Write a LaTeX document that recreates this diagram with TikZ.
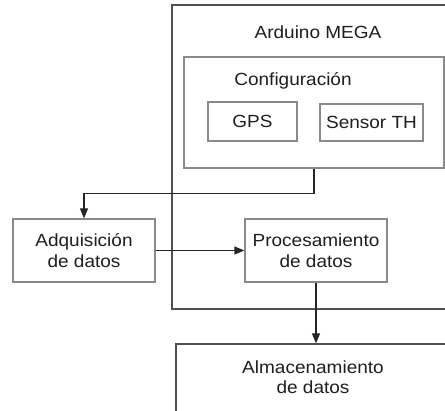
\documentclass[tikz,border=0pt]{standalone}
\usepackage{fontspec}
\setmainfont{Liberation Sans}[FakeStretch=1.08]
\usetikzlibrary{arrows.meta}
\definecolor{outerline}{HTML}{505050}
\definecolor{innerline}{HTML}{8A8A8A}
\definecolor{txt}{HTML}{1E1E1E}
\begin{document}
\begin{tikzpicture}[x=1pt,y=-1pt,
  every node/.style={font=\fontsize{17.6}{20.5}\selectfont, text=txt, inner sep=0pt, align=center},
  bigbox/.style={draw=outerline, line width=1.2pt},
  smallbox/.style={draw=innerline, line width=1.2pt},
  conn/.style={draw=black!85, line width=1.2pt},
  arr/.style={conn, -{Triangle[length=10pt,width=8pt]}}]
\useasboundingbox (0,0) rectangle (445,411);
\clip (0,0) rectangle (445,411);
% Arduino MEGA
\node[bigbox, minimum width=290pt, minimum height=304pt] (arduino) at (317,157) {};
\node (arduinotxt) at (318,32) {Arduino MEGA};
% Configuracion
\node[smallbox, minimum width=260pt, minimum height=111pt] (config) at (314,112.5) {};
\node (configtxt) at (293,81) {Configuración};
\node[smallbox, minimum width=89pt, minimum height=39pt] (gps) at (252.5,121.5) {GPS};
\node[smallbox, minimum width=103pt, minimum height=37pt] (sensor) at (371.5,122.5) {Sensor TH};
% Adquisicion / Procesamiento
\node[smallbox, minimum width=142pt, minimum height=63pt] (adq) at (84,250.5) {Adquisición\\de datos};
\node[smallbox, minimum width=142pt, minimum height=63pt] (proc) at (316,250.5) {Procesamiento\\de datos};
% Almacenamiento
\node[bigbox, minimum width=290pt, minimum height=100pt] (almac) at (321,394) {};
\node (almactxt) at (313,377) {Almacenamiento\\de datos};
% connectors
\draw[arr] (config.south) -- ++(0,25) coordinate (bend) -| (adq.north);
\draw[arr] (adq.east) -- (proc.west);
\draw[arr] (proc.south) -- (proc.south |- almac.north);
\end{tikzpicture}
\end{document}
